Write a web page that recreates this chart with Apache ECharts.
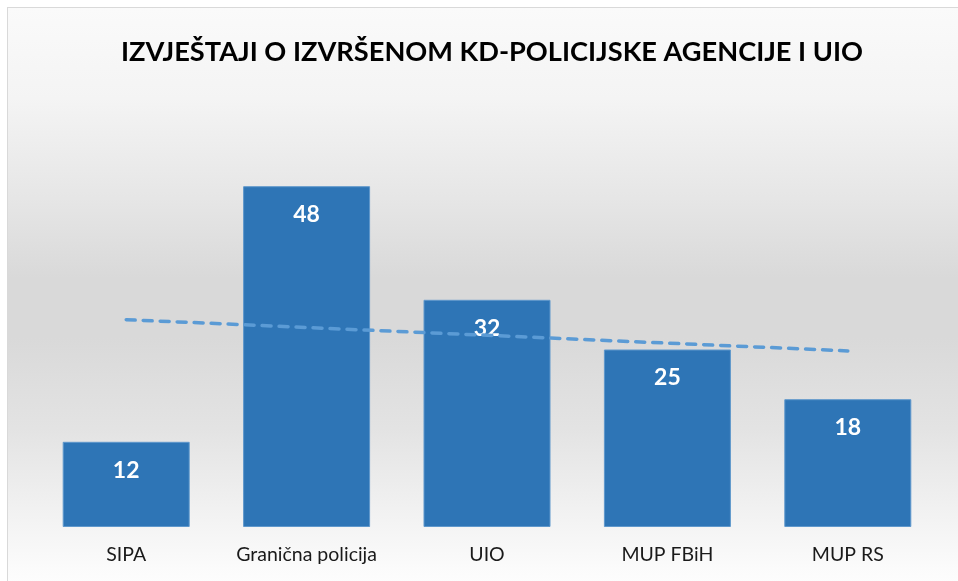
<!DOCTYPE html>
<html>
<head>
<meta charset="utf-8">
<script src="https://cdn.jsdelivr.net/npm/echarts@6/dist/echarts.min.js"></script>
<style>
    html, body { margin: 0; padding: 0; background: #fff; }
    #frame {
        position: absolute; left: 7px; top: 7px; width: 960px; height: 590px;
        border: 1px solid #d9d9d9; box-sizing: border-box;
        background: linear-gradient(to bottom,
            #fafafa 0px, #f4f4f4 90px, #e6e6e6 190px, #d9d9d9 270px,
            #d9d9d9 330px, #e3e3e3 420px, #f0f0f0 495px, #fbfbfb 560px, #ffffff 590px);
    }
    #main { position: absolute; left: 0; top: 0; width: 958px; height: 581px; }
</style>
</head>
<body>
<div id="frame"></div>
<div id="main"></div>
<script>
var categories = ['SIPA', 'Granična policija', 'UIO', 'MUP FBiH', 'MUP RS'];
var counts = [12, 48, 32, 25, 18];
// linear trendline ends
var trendStart = 29.2;
var trendEnd = 24.8;

var myChart = echarts.init(document.getElementById('main'));
var option = {
    title: {
        text: 'IZVJEŠTAJI O IZVRŠENOM KD-POLICIJSKE AGENCIJE I UIO',
        left: 116,
        top: 34,
        textStyle: {
            fontFamily: 'Lato',
            fontWeight: 'bold',
            fontSize: 27.2,
            color: '#000'
        }
    },
    grid: {
        left: 36,
        right: 20,
        top: 101,
        bottom: 54
    },
    xAxis: {
        type: 'category',
        data: categories,
        axisLine: { show: false },
        axisTick: { show: false },
        axisLabel: {
            interval: 0,
            hideOverlap: false,
            margin: 18,
            fontFamily: 'Lato',
            fontSize: 19.5,
            color: '#1a1a1a'
        }
    },
    yAxis: {
        type: 'value',
        min: 0,
        max: 60,
        show: false,
        splitLine: { show: false }
    },
    series: [
        {
            type: 'bar',
            data: counts,
            barWidth: 127,
            itemStyle: {
                color: '#2E75B6',
                borderColor: '#5f98cc',
                borderWidth: 1
            },
            label: {
                show: true,
                position: 'insideTop',
                distance: 17,
                fontFamily: 'Lato',
                fontWeight: 'bold',
                fontSize: 23,
                color: '#fff'
            },
            markLine: {
                silent: true,
                symbol: ['none', 'none'],
                label: { show: false },
                z: 3,
                lineStyle: {
                    color: '#5B9BD5',
                    width: 3.5,
                    type: [9, 8],
                    cap: 'round'
                },
                data: [
                    [
                        { coord: [categories[0], trendStart] },
                        { coord: [categories[categories.length - 1], trendEnd] }
                    ]
                ]
            }
        }
    ]
};
myChart.setOption(option);
</script>
</body>
</html>
